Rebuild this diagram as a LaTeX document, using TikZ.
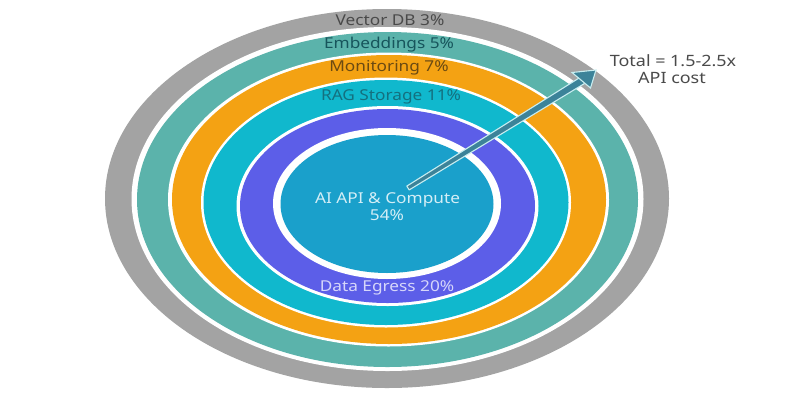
\documentclass[tikz,border=0pt]{standalone}
\usepackage{fontspec}
\setmainfont{Noto Sans}[FakeStretch=1.15]
\newcommand{\bigsize}{\fontsize{15.6}{17}\selectfont}
\tikzset{
  ring/.style={fill=#1,draw=none},
  gap/.style={fill=#1,draw=none},
  lbl/.style={inner sep=0pt,font=\fontsize{15}{17}\selectfont,text=#1,anchor=center},
  shaftshape/.style={fill=arrowcore,draw=arrowedge,line width=1.1pt,line join=round},
  headshape/.style={fill=arrowcore,draw=arrowedge,line width=1.1pt,line join=miter}
}
\definecolor{arrowedge}{HTML}{C8EDF0}
\definecolor{arrowcore}{HTML}{3C8399}
\definecolor{cgray}{HTML}{A3A3A3}
\definecolor{cteal}{HTML}{5BB3AB}
\definecolor{corange}{HTML}{F4A213}
\definecolor{ccyan}{HTML}{10B8CD}
\definecolor{cpurple}{HTML}{5C5EE8}
\definecolor{cblue}{HTML}{1AA0CB}
\definecolor{tgray}{HTML}{4A4A4A}
\definecolor{tteal}{HTML}{17555C}
\definecolor{torange}{HTML}{6B4A12}
\definecolor{tcyan}{HTML}{14707F}
\definecolor{tpurple}{HTML}{D6D6FA}
\definecolor{tblue}{HTML}{D4EEF6}
\begin{document}
\begin{tikzpicture}[x=1pt,y=-1pt]
\useasboundingbox (0,0) rectangle (800,400);
\fill[white] (0,0) rectangle (800,400);
% rings
\fill[ring=cgray]   (387,198.5) ellipse [x radius=282,  y radius=189.5];
\fill[gap=white]    (387.5,199) ellipse [x radius=256,  y radius=172];
\fill[ring=cteal]   (387.5,199.5) ellipse [x radius=250.5,y radius=167.5];
\fill[gap=white]    (388.5,199.5) ellipse [x radius=220.5,y radius=147];
\fill[ring=corange] (389,199.5) ellipse [x radius=217,  y radius=144.5];
\fill[gap=white]    (386,202.5) ellipse [x radius=185,  y radius=125];
\fill[ring=ccyan]   (386,202.5) ellipse [x radius=182.5,y radius=122.5];
\fill[gap=white]    (387.5,206) ellipse [x radius=151,  y radius=100];
\fill[ring=cpurple] (387.5,206) ellipse [x radius=147.5,y radius=97];
\fill[gap=white]    (387,203.5) ellipse [x radius=114,  y radius=75.5];
\fill[ring=cblue]   (387,204) ellipse [x radius=106.5,y radius=69];
% arrow
\coordinate (taila) at (409.2,189.9);
\coordinate (tailb) at (406.8,186.1);
\coordinate (necka) at (585,83.2);
\coordinate (neckb) at (581,76.8);
\coordinate (tip) at (596,70);
\coordinate (wingl) at (572,72.5);
\coordinate (wingr) at (590.5,88);
\draw[shaftshape] (taila) -- (necka) -- (neckb) -- (tailb) -- cycle;
\draw[headshape] (tip) -- (wingl) -- (wingr) -- cycle;
% labels
\node[lbl=tgray] (vdb) at (390,20.5) {Vector DB 3\%};
\node[lbl=tteal] (emb) at (389,44.5) {Embeddings 5\%};
\node[lbl=torange] (mon) at (389,68) {Monitoring 7\%};
\node[lbl=tcyan] (rag) at (391,97) {RAG Storage 11\%};
\node[lbl=tpurple] (egr) at (387,288) {Data Egress 20\%};
\node[lbl=tblue] (ai) at (387.5,200) {AI API \& Compute};
\node[lbl=tblue] (pct) at (387,215) {54\%};
\node[lbl=tgray,font=\bigsize] (tot) at (673,61) {Total = 1.5-2.5x};
\node[lbl=tgray,font=\bigsize] (api) at (672,78) {API cost};
\end{tikzpicture}
\end{document}
